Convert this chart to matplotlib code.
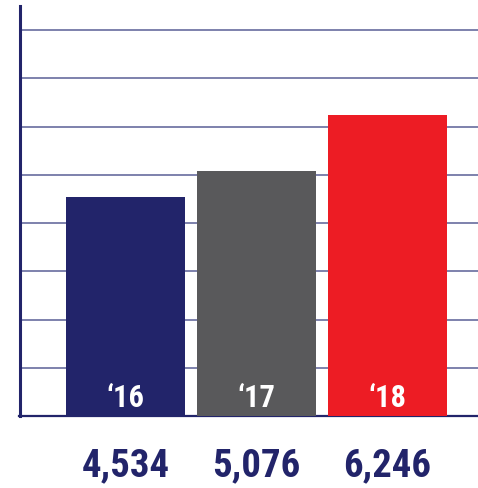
import matplotlib
matplotlib.use("Agg")
import matplotlib.pyplot as plt
import matplotlib.transforms as mtransforms

years = ["\u201816", "\u201817", "\u201818"]
values = [4534, 5076, 6246]
value_labels = ["4,534", "5,076", "6,246"]
colors = ["#22246a", "#59595b", "#ed1c24"]
grid_ticks = [1000, 2000, 3000, 4000, 5000, 6000, 7000, 8000]

navy = "#22246a"
# condensed face first, plain sans as fallback
font = ["Roboto Condensed", "Barlow Condensed", "Liberation Sans Narrow", "Roboto", "DejaVu Sans"]

fig = plt.figure(figsize=(4.78, 4.88), dpi=100)
ax = fig.add_axes([19.5 / 478, 72 / 488, (478 - 19.5) / 478, 410 / 488])

x = list(range(len(values)))
ax.bar(x, values, width=0.908, color=colors, zorder=3)

for v in grid_ticks:
    ax.axhline(v, color="#5a5f96", lw=1.1, zorder=1)

ax.set_xlim(-0.809, 2.691)
ax.set_ylim(0, 8500)
ax.set_xticks([])
ax.set_yticks([])

for side in ["top", "right"]:
    ax.spines[side].set_visible(False)
ax.spines["left"].set_color(navy)
ax.spines["left"].set_linewidth(2.2)
ax.spines["bottom"].set_color(navy)
ax.spines["bottom"].set_linewidth(1.6)

trans = mtransforms.blended_transform_factory(ax.transData, ax.transAxes)
for xi, yr, lab in zip(x, years, value_labels):
    ax.text(xi, 9 / 410, yr, transform=trans, ha="center", va="baseline",
            color="white", fontsize=22, fontweight="bold", family=font, zorder=4)
    ax.text(xi, -60 / 410, lab, transform=trans, ha="center", va="baseline",
            color=navy, fontsize=28, fontweight="bold", family=font, clip_on=False)

fig.savefig("out.png", dpi=100)
